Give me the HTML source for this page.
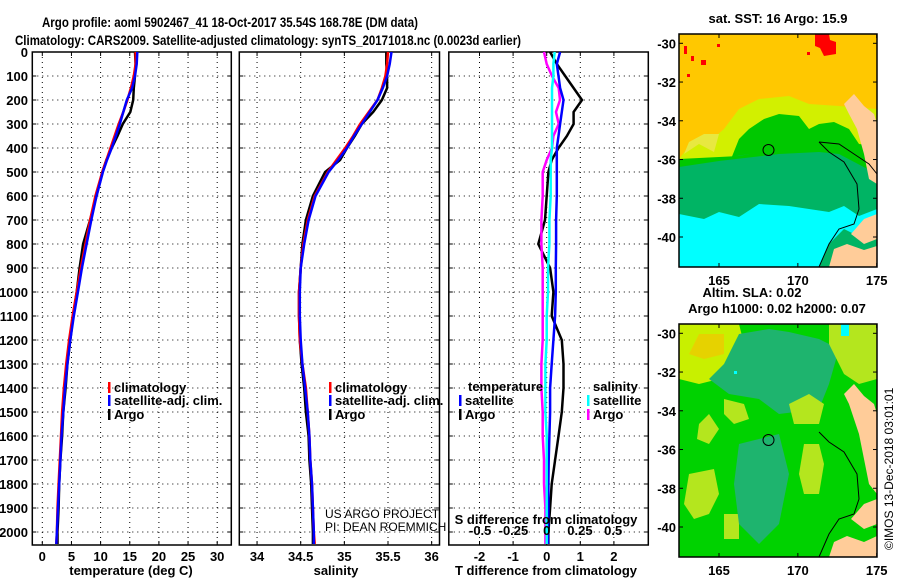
<!DOCTYPE html>
<html><head><meta charset="utf-8"><style>
html,body{margin:0;padding:0;background:#fff;}
svg{display:block;font-family:"Liberation Sans",sans-serif;}
.b{font-weight:bold;font-size:13px;}
.t{font-weight:bold;font-size:14px;}
</style></head><body>
<svg id="fig" width="900" height="580" viewBox="0 0 900 580" xmlns="http://www.w3.org/2000/svg">
<text x="42" y="27" class="t" textLength="376" lengthAdjust="spacingAndGlyphs">Argo profile: aoml 5902467_41 18-Oct-2017 35.54S 168.78E (DM data)</text>
<text x="15" y="45" class="t" textLength="506" lengthAdjust="spacingAndGlyphs">Climatology: CARS2009. Satellite-adjusted climatology: synTS_20171018.nc (0.0023d earlier)</text>
<g id="p1"></g>
<g id="p2"></g>
<g id="p3"></g>

<!-- SST map -->
<g>
<text x="778" y="23" class="b" text-anchor="middle">sat. SST: 16 Argo: 15.9</text>
<svg x="679" y="34" width="198" height="233" viewBox="0 0 198 233">
<rect width="198" height="233" fill="#ffc800"/>
<polygon fill="#d2f000" points="0,125 10,112 30,108 45,95 60,75 80,65 110,62 130,70 160,72 198,75 198,233 0,233"/>
<polygon fill="#e8e840" points="5,120 20,110 35,118 40,100 25,100 10,108"/>
<polygon fill="#00c800" points="0,145 20,142 35,130 50,130 60,105 70,95 85,85 100,80 120,82 130,95 140,90 155,88 170,95 180,110 198,112 198,233 0,233"/>
<polygon fill="#00b464" points="0,130 20,128 40,125 70,120 100,118 140,118 160,120 198,140 198,233 0,233"/>
<polygon fill="#00c800" points="0,125 60,122 90,116 120,112 140,100 160,95 170,110 140,118 100,120 40,127 0,133"/>
<polygon fill="#00ffff" points="0,180 25,185 40,178 60,183 80,170 110,172 130,175 150,178 165,172 180,182 198,175 198,233 0,233"/>
<polygon fill="#00b464" points="140,233 150,210 165,195 185,205 198,200 198,233"/>
<polygon fill="#ffcc99" points="175,60 185,72 195,80 198,90 198,150 190,145 185,120 178,95 170,80 165,70"/>
<polygon fill="#ffcc99" points="150,233 155,215 168,210 185,216 198,212 198,233"/>
<polygon fill="#ffcc99" points="172,200 185,185 198,180 198,205 185,210"/>
<polygon fill="#ff0000" points="136,0 150,0 151,6 157,8 157,20 145,22 141,14 136,12"/>
<rect x="5" y="12" width="3" height="8" fill="#f00"/><rect x="12" y="22" width="3" height="5" fill="#f00"/><rect x="22" y="26" width="5" height="5" fill="#f00"/><rect x="38" y="10" width="3" height="3" fill="#f00"/><rect x="128" y="18" width="3" height="3" fill="#f00"/><rect x="8" y="40" width="3" height="3" fill="#f00"/>
<polyline fill="none" stroke="#000" stroke-width="1" points="140,108 150,118 165,128 178,150 180,175 175,190 160,195 150,210 140,233"/>
<polyline fill="none" stroke="#000" stroke-width="1" points="140,108 160,110 175,120 190,130 198,140"/>
<circle cx="89.5" cy="116" r="5.5" fill="none" stroke="#000" stroke-width="1"/>
</svg>
<rect x="679" y="34" width="198" height="233" fill="none" stroke="#000" stroke-width="1.5"/>
<g id="m1ax"></g>
</g>

<!-- SLA map -->
<g>
<text x="752" y="297" class="b" text-anchor="middle">Altim. SLA: 0.02</text>
<text x="777" y="313" class="b" text-anchor="middle">Argo h1000: 0.02 h2000: 0.07</text>
<svg x="679" y="324" width="198" height="233" viewBox="0 0 198 233">
<rect width="198" height="233" fill="#00d200"/>
<polygon fill="#c8f000" points="0,0 60,0 65,20 55,40 40,55 20,60 0,55"/>
<polygon fill="#e6d200" points="20,10 45,10 45,30 25,35 10,30"/>
<polygon fill="#1eb46e" points="60,10 90,5 110,8 140,15 160,25 150,60 140,85 100,90 80,75 50,70 30,55 45,40"/>
<polygon fill="#b4e61e" points="150,0 198,0 198,55 180,60 165,50 150,20"/>
<polygon fill="#b4e61e" points="125,120 140,120 145,140 140,170 125,170 120,150"/>
<polygon fill="#b4e61e" points="110,80 130,70 145,80 140,100 115,100"/>
<polygon fill="#b4e61e" points="20,100 30,90 40,105 30,120 18,115"/>
<polygon fill="#b4e61e" points="45,75 65,80 70,95 55,100 45,90"/>
<polygon fill="#b4e61e" points="10,150 35,145 40,170 30,190 15,195 5,180"/>
<polygon fill="#b4e61e" points="45,190 60,190 60,215 45,215"/>
<polygon fill="#1eb46e" points="60,120 100,110 110,150 100,200 80,220 60,200 55,160"/>
<rect x="162" y="0" width="8" height="12" fill="#0ff"/><rect x="55" y="47" width="3" height="3" fill="#0ff"/>
<polygon fill="#ffcc99" points="175,60 185,72 195,80 198,90 198,170 190,160 180,110 175,95 170,80 165,70"/>
<polygon fill="#ffcc99" points="150,233 155,218 168,212 185,218 198,212 198,233"/>
<polygon fill="#ffcc99" points="172,195 185,180 198,175 198,200 185,205"/>
<polyline fill="none" stroke="#000" stroke-width="1" points="140,108 150,118 165,128 178,150 180,175 175,190 160,195 150,210 140,233"/>
<circle cx="89.5" cy="116" r="5.5" fill="none" stroke="#000" stroke-width="1"/>
</svg>
<rect x="679" y="324" width="198" height="233" fill="none" stroke="#000" stroke-width="1.5"/>
<g id="m2ax"></g>
</g>
<text transform="translate(893,550) rotate(-90)" font-size="12">©IMOS 13-Dec-2018 03:01:01</text>
</svg>
<script>
const depths=[0,50,100,150,200,250,300,350,400,450,500,600,700,800,900,1000,1100,1200,1300,1400,1500,1600,1700,1800,1900,2000,2050];
const climT=[16.0,16.0,15.7,15.2,14.6,13.9,13.1,12.4,11.7,11.0,10.3,9.1,8.2,7.4,6.6,5.9,5.2,4.6,4.1,3.7,3.4,3.2,3.0,2.8,2.6,2.5,2.4];
const satT=[16.3,16.2,15.9,15.4,14.5,13.9,13.3,12.6,11.9,11.1,10.4,9.3,8.4,7.6,6.8,6.1,5.4,4.8,4.3,3.9,3.6,3.3,3.1,2.9,2.7,2.5,2.4];
const argoT=[15.9,16.0,15.9,15.7,15.6,15.1,13.8,12.9,11.9,11.0,10.3,9.3,8.2,7.0,6.4,5.9,5.3,4.8,4.3,4.0,3.6,3.4,3.1,2.9,2.8,2.6,2.6];
const climS=[35.50,35.49,35.47,35.43,35.38,35.28,35.18,35.10,35.01,34.91,34.81,34.66,34.58,34.53,34.50,34.48,34.48,34.49,34.52,34.56,34.58,34.60,34.61,34.63,34.64,34.65,34.66];
const satS=[35.54,35.52,35.49,35.44,35.38,35.29,35.20,35.11,35.03,34.93,34.82,34.67,34.59,34.54,34.50,34.49,34.49,34.50,34.52,34.55,34.58,34.60,34.61,34.63,34.64,34.65,34.65];
const argoS=[35.48,35.48,35.49,35.49,35.43,35.33,35.20,35.12,35.03,34.95,34.78,34.64,34.56,34.52,34.50,34.48,34.48,34.49,34.51,34.54,34.56,34.59,34.60,34.62,34.63,34.64,34.64];
const dT_argo=[0.1,0.3,0.55,0.8,1.05,0.8,0.8,0.6,0.35,0.15,0.05,0.0,-0.05,-0.25,0.1,0.2,0.15,0.45,0.5,0.5,0.45,0.35,0.25,0.15,0.1,0.05,0.05];
const dT_sat=[0.4,0.3,0.35,0.4,0.5,0.45,0.4,0.35,0.3,0.3,0.3,0.3,0.28,0.28,0.27,0.27,0.25,0.2,0.15,0.1,0.1,0.08,0.06,0.05,0.05,0.04,0.04];
const dS_sat=[0.06,0.05,0.05,0.04,0.04,0.04,0.04,0.04,0.04,0.03,0.03,0.03,0.02,0.02,0.01,0.01,0.0,0.0,-0.01,-0.01,-0.01,0,0,0,0,0,0];
const dS_argo=[-0.02,0.0,0.04,0.09,0.1,0.07,0.09,0.05,0.04,0.0,-0.03,-0.03,-0.04,-0.04,-0.03,-0.03,-0.03,-0.03,-0.04,-0.04,-0.03,-0.03,-0.02,-0.02,-0.01,-0.01,-0.01];
const depthTicks=[0,100,200,300,400,500,600,700,800,900,1000,1100,1200,1300,1400,1500,1600,1700,1800,1900,2000];
const tempTicks=[0,5,10,15,20,25,30];
const salTicks=[34,34.5,35,35.5,36];
const salTickLabels=["34","34.5","35","35.5","36"];
const dTTicks=[-2,-1,0,1,2];
const dSTicks=[-0.5,-0.25,0,0.25,0.5];
const dSTickLabels=["-0.5","-0.25","0","0.25","0.5"];
const lonTicks=[165,170,175];
const latTicks=[-30,-32,-34,-36,-38,-40];

const NS='http://www.w3.org/2000/svg';
function mk(parent,tag,attrs,txt){const e=document.createElementNS(NS,tag);for(const k in attrs)e.setAttribute(k,attrs[k]);if(txt!==undefined)e.textContent=txt;parent.appendChild(e);return e;}
const TOP=52,BOT=545;
const yD=d=>TOP+d*0.24;
const xT=t=>42.3+t*5.83;
const xS=s=>300.7+(s-34.5)*87.3;
const xDT=t=>546.7+t*33.6;
const xDS=s=>546.7+s*133;

function frame(g,x0,x1,xTicks,xf,labels,labelY){
  for(const d of depthTicks){const l=mk(g,'line',{x1:x0,x2:x1,y1:yD(d),y2:yD(d),stroke:'#000','stroke-width':1,'stroke-dasharray':'1,4'});
  
  mk(g,'line',{x1:x0,x2:x0+4,y1:yD(d),y2:yD(d),stroke:'#000'});mk(g,'line',{x1:x1-4,x2:x1,y1:yD(d),y2:yD(d),stroke:'#000'});}
  xTicks.forEach((v,i)=>{const x=xf(v);const l=mk(g,'line',{x1:x,x2:x,y1:TOP,y2:BOT,stroke:'#000','stroke-width':1,'stroke-dasharray':'1,4'});
  
  mk(g,'line',{x1:x,x2:x,y1:TOP,y2:TOP+4,stroke:'#000'});mk(g,'line',{x1:x,x2:x,y1:BOT-4,y2:BOT,stroke:'#000'});
  if(labels){const t=mk(g,'text',{x:x,y:labelY,'text-anchor':'middle','class':'b'},labels[i]);
  }});
  const r=mk(g,'rect',{x:x0,y:TOP,width:x1-x0,height:BOT-TOP,fill:'none',stroke:'#000','stroke-width':1.5});
  
}
function line(g,vals,xf,color,name,w){const pts=vals.map((v,i)=>xf(v).toFixed(1)+','+yD(depths[i]).toFixed(1)).join(' ');
  const p=mk(g,'polyline',{points:pts,fill:'none',stroke:color,'stroke-width':w||2.5,'stroke-linejoin':'miter'});
  }
function legend(g,x,y,color,label){mk(g,'rect',{x:x,y:y-9,width:2.5,height:11,fill:color});
  const t=mk(g,'text',{x:x+6,y:y+1,'class':'b','font-size':'12'},label);
  }

const p1=document.getElementById('p1');
frame(p1,32.3,231.3,tempTicks,xT,tempTicks.map(String),561);
for(const d of depthTicks){const t=mk(p1,'text',{x:28,y:yD(d)+5,'text-anchor':'end','class':'b'},String(d));
  }
line(p1,argoT,xT,'#000','argo-temperature-line');
line(p1,climT,xT,'#f00','climatology-temperature-line');
line(p1,satT,xT,'#00f','satellite-temperature-line');
legend(p1,108,391,'#f00','climatology');legend(p1,108,404,'#00f','satellite-adj. clim.');legend(p1,108,418,'#000','Argo');
let t=mk(p1,'text',{x:131,y:575,'text-anchor':'middle','class':'b'},'temperature (deg C)');


const p2=document.getElementById('p2');
frame(p2,239.3,439.5,salTicks,xS,salTickLabels,561);
line(p2,argoS,xS,'#000','argo-salinity-line');
line(p2,climS,xS,'#f00','climatology-salinity-line');
line(p2,satS,xS,'#00f','satellite-salinity-line');
legend(p2,329,391,'#f00','climatology');legend(p2,329,404,'#00f','satellite-adj. clim.');legend(p2,329,418,'#000','Argo');
t=mk(p2,'text',{x:336,y:575,'text-anchor':'middle','class':'b'},'salinity');

t=mk(p2,'text',{x:325,y:518,'font-size':'12'},'US ARGO PROJECT');
t=mk(p2,'text',{x:325,y:531,'font-size':'12'},'PI: DEAN ROEMMICH');

const p3=document.getElementById('p3');
frame(p3,448.8,648.3,dTTicks,xDT,dTTicks.map(String),561);
line(p3,dT_argo,xDT,'#000','argo-temperature-difference-line');
line(p3,dS_argo,xDS,'#f0f','argo-salinity-difference-line');
line(p3,dT_sat,xDT,'#00f','satellite-temperature-difference-line');
line(p3,dS_sat,xDS,'#0ff','satellite-salinity-difference-line');
dSTicks.forEach((v,i)=>{const tt=mk(p3,'text',{x:xDS(v),y:535,'text-anchor':'middle','class':'b','font-size':'12'},dSTickLabels[i]);
  });
t=mk(p3,'text',{x:546,y:524,'text-anchor':'middle','class':'b','font-size':'12'},'S difference from climatology');

t=mk(p3,'text',{x:546,y:575,'text-anchor':'middle','class':'b'},'T difference from climatology');

t=mk(p3,'text',{x:468,y:391,'class':'b','font-size':'12'},'temperature');
t=mk(p3,'text',{x:593,y:391,'class':'b','font-size':'12'},'salinity');
legend(p3,459,404,'#00f','satellite');legend(p3,459,418,'#000','Argo');
legend(p3,587,404,'#0ff','satellite');legend(p3,587,418,'#f0f','Argo');

function mapAxes(id,y0){const g=document.getElementById(id);const x0=679,x1=877,h=233;
  const xl=l=>719+(l-165)*15.77;const yl=la=>y0+9.3+(-30-la)*19.37;
  lonTicks.forEach(l=>{const x=xl(l);mk(g,'line',{x1:x,x2:x,y1:y0,y2:y0+4,stroke:'#000'});mk(g,'line',{x1:x,x2:x,y1:y0+h-4,y2:y0+h,stroke:'#000'});
    const tt=mk(g,'text',{x:x,y:y0+h+18,'text-anchor':'middle','class':'b'},String(l));});
  latTicks.forEach(la=>{const y=yl(la);mk(g,'line',{x1:x0,x2:x0+4,y1:y,y2:y,stroke:'#000'});mk(g,'line',{x1:x1-4,x2:x1,y1:y,y2:y,stroke:'#000'});
    const tt=mk(g,'text',{x:676,y:y+5,'text-anchor':'end','class':'b'},String(la));});}
mapAxes('m1ax',34);mapAxes('m2ax',324);
</script>
</body></html>
